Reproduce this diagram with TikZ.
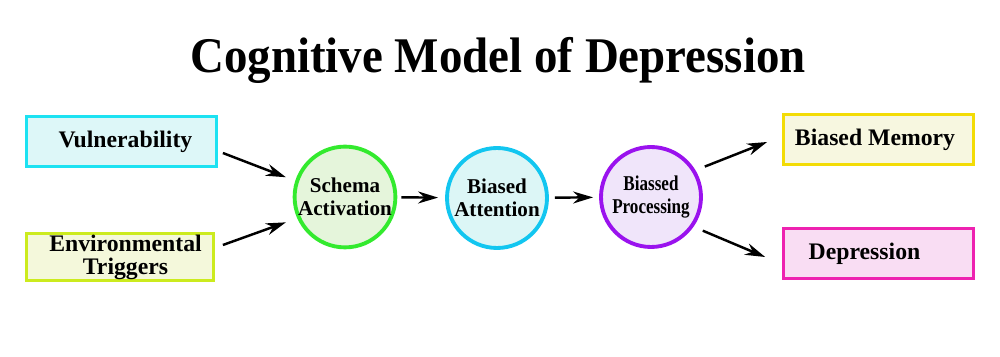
\documentclass[tikz,border=0pt]{standalone}
\usepackage{fontspec}
\setmainfont{Liberation Serif}
\usetikzlibrary{arrows.meta,calc}

\definecolor{vulline}{HTML}{1CE2F2}
\definecolor{vulfill}{HTML}{DDF7F8}
\definecolor{envline}{HTML}{CCEB1E}
\definecolor{envfill}{HTML}{F4F8DB}
\definecolor{schline}{HTML}{33EA2E}
\definecolor{schfill}{HTML}{E5F5DB}
\definecolor{attline}{HTML}{12C6F0}
\definecolor{attfill}{HTML}{DCF6F6}
\definecolor{proline}{HTML}{9A12EE}
\definecolor{profill}{HTML}{F0E5FA}
\definecolor{memline}{HTML}{F3DC05}
\definecolor{memfill}{HTML}{F7F7E0}
\definecolor{depline}{HTML}{EE22B0}
\definecolor{depfill}{HTML}{F9DDF3}

\begin{document}
\begin{tikzpicture}[x=0.02cm,y=-0.02cm,
  box/.style={draw,line width=1.6pt,minimum width=3.8cm,minimum height=1cm,inner sep=0pt,
    align=center,font=\fontsize{13.5}{13}\selectfont\bfseries},
  stage/.style={circle,draw,line width=2.2pt,minimum size=2cm,inner sep=0pt,
    align=center,font=\fontsize{12}{13}\selectfont\bfseries},
  arr/.style={-{Stealth[length=4mm,width=2.4mm]},line width=1.4pt}]
  \useasboundingbox[fill=white] (0,0) rectangle (1000,357);

  \node[anchor=base] (title) at (498,73)
    {\fontsize{28.4}{34}\selectfont\bfseries\scalebox{0.94}[1]{Cognitive Model of Depression}};

  % inputs
  \node[box,draw=vulline,fill=vulfill] (vul) at (121.5,141.5) {\hspace*{0.16cm}Vulnerability};
  \node[box,draw=envline,fill=envfill,minimum width=3.74cm,minimum height=0.94cm] (env) at (120,257)
    {\hspace*{0.22cm}Environmental\\\hspace*{0.22cm}Triggers};

  % chain
  \node[stage,draw=schline,fill=schfill] (schema) at (345,197) {Schema\\Activation};
  \node[stage,draw=attline,fill=attfill] (att) at (497,198) {Biased\\Attention};
  \node[stage,draw=proline,fill=profill] (proc) at (651,197)
    {\scalebox{0.81}[1]{Biassed}\\\scalebox{0.81}[1]{Processing}};

  % outcomes
  \node[box,draw=memline,fill=memfill] (mem) at (878.5,139.5) {Biased Memory\hspace*{0.14cm}};
  \node[box,draw=depline,fill=depfill] (dep) at (878.5,253.5) {Depression\hspace*{0.56cm}};

  \draw[arr,shorten >=0.2cm] ([shift={(5,11.5)}]vul.east) -- (schema.162);
  \draw[arr,shorten >=0.24cm] ([shift={(8,-12)}]env.east) -- (schema.204);
  \draw[arr,shorten <=0.08cm,shorten >=0.14cm] (schema) -- (att);
  \draw[arr,shorten <=0.12cm,shorten >=0.12cm] (att) -- (proc);
  \draw[arr,shorten <=0.2cm] (proc.31) -- ([shift={(-15,2.5)}]mem.west);
  \draw[arr,shorten <=0.2cm] (proc.-35) -- ([shift={(-17,3.5)}]dep.west);
\end{tikzpicture}
\end{document}
